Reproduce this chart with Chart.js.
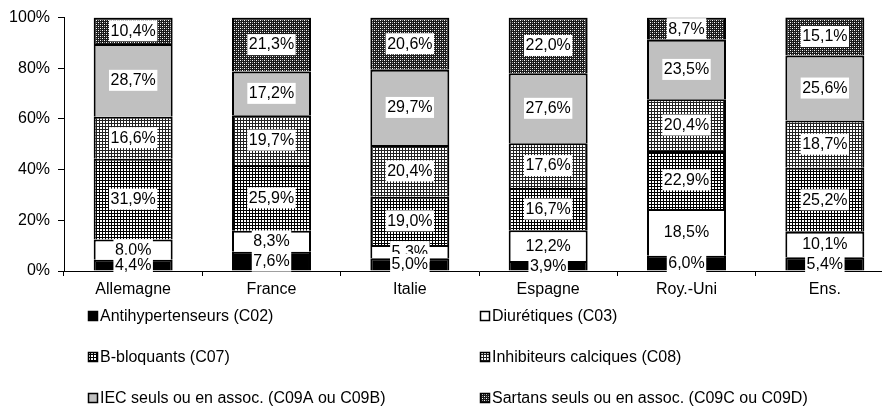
<!DOCTYPE html>
<html><head><meta charset="utf-8">
<script src="https://cdn.jsdelivr.net/npm/chart.js@4.4.1/dist/chart.umd.min.js"></script>
<style>html,body{margin:0;padding:0;background:#fff;overflow:hidden;} #wrap{width:900px;height:418px;}</style>
</head><body><div id="wrap"><canvas id="c" width="900" height="418"></canvas></div>
<script>
const categories = ['Allemagne', 'France', 'Italie', 'Espagne', 'Roy.-Uni', 'Ens.'];
const seriesNames = ['Antihypertenseurs (C02)', 'Diurétiques (C03)', 'B-bloquants (C07)', 'Inhibiteurs calciques (C08)', 'IEC seuls ou en assoc. (C09A ou C09B)', 'Sartans seuls ou en assoc. (C09C ou C09D)'];
const antihypertenseurs = [4.4, 7.6, 5.0, 3.9, 6.0, 5.4];
const diuretiques = [8.0, 8.3, 5.3, 12.2, 18.5, 10.1];
const bBloquants = [31.9, 25.9, 19.0, 16.7, 22.9, 25.2];
const inhibiteursCalciques = [16.6, 19.7, 20.4, 17.6, 20.4, 18.7];
const iec = [28.7, 17.2, 29.7, 27.6, 23.5, 25.6];
const sartans = [10.4, 21.3, 20.6, 22.0, 8.7, 15.1];
const yTicks = [0, 20, 40, 60, 80, 100];

const FONT = "'Liberation Sans', Arial, sans-serif";

function makePattern(size, painter) {
  const c = document.createElement('canvas');
  c.width = size; c.height = size;
  const g = c.getContext('2d');
  painter(g);
  return g.createPattern(c, 'repeat');
}
const fillBlack = '#000000';
const fillWhite = '#ffffff';
const fillGridDark = makePattern(3, g => {
  g.fillStyle = '#fff'; g.fillRect(0, 0, 3, 3);
  g.fillStyle = '#000'; g.fillRect(0, 0, 3, 1); g.fillRect(0, 0, 1, 3);
});
const fillGridLight = makePattern(3, g => {
  g.fillStyle = '#fff'; g.fillRect(0, 0, 3, 3);
  g.fillStyle = '#222'; g.fillRect(0, 0, 3, 1); g.fillRect(0, 0, 1, 3);
});
const fillGray = '#c0c0c0';
const fillDots = makePattern(4, g => {
  g.fillStyle = '#1a1a1a'; g.fillRect(0, 0, 4, 4);
  g.fillStyle = '#ffffff'; g.fillRect(0, 0, 1, 1); g.fillRect(2, 2, 1, 1);
  g.fillStyle = '#9a9a9a'; g.fillRect(2, 0, 1, 1); g.fillRect(0, 2, 1, 1);
});

const seriesValues = [antihypertenseurs, diuretiques, bBloquants, inhibiteursCalciques, iec, sartans];
const seriesFills = [fillBlack, fillWhite, fillGridDark, fillGridLight, fillGray, fillDots];

const datasets = seriesValues.map((vals, k) => ({
  label: seriesNames[k],
  data: vals,
  backgroundColor: seriesFills[k],
  borderColor: '#000',
  borderWidth: 2,
  barPercentage: 0.571,
  categoryPercentage: 1.0
}));

function fmt(v) { return v.toFixed(1).replace('.', ',') + '%'; }

const valueLabels = {
  id: 'valueLabels',
  afterDatasetsDraw(chart) {
    const ctx = chart.ctx;
    ctx.save();
    ctx.font = '16px ' + FONT;
    ctx.textAlign = 'center';
    ctx.textBaseline = 'middle';
    for (let d = chart.data.datasets.length - 1; d >= 0; d--) {
      const meta = chart.getDatasetMeta(d);
      meta.data.forEach((el, i) => {
        const txt = fmt(chart.data.datasets[d].data[i]);
        const cy = (el.y + el.base) / 2;
        const w = ctx.measureText(txt).width + 3;
        ctx.fillStyle = '#fff';
        ctx.fillRect(el.x - w / 2, cy - 10.5, w, 21);
        ctx.fillStyle = '#000';
        ctx.fillText(txt, el.x, cy + 0.5);
      });
    }
    ctx.restore();
  }
};

const customLegend = {
  id: 'customLegend',
  afterDraw(chart) {
    const ctx = chart.ctx;
    const colX = [88, 480];
    const rowY = [316, 357, 398];
    ctx.save();
    ctx.font = '16px ' + FONT;
    ctx.textAlign = 'left';
    ctx.textBaseline = 'middle';
    chart.data.datasets.forEach((ds, k) => {
      const x = colX[k % 2];
      const y = rowY[Math.floor(k / 2)];
      ctx.fillStyle = ds.backgroundColor;
      ctx.fillRect(x, y - 5, 10, 10);
      ctx.strokeStyle = '#000';
      ctx.lineWidth = 1.5;
      ctx.strokeRect(x + 0.5, y - 4.5, 9, 9);
      ctx.fillStyle = '#000';
      ctx.fillText(ds.label, x + 12, y + 0.5);
    });
    ctx.restore();
  }
};

new Chart(document.getElementById('c'), {
  type: 'bar',
  data: { labels: categories, datasets },
  plugins: [valueLabels, customLegend],
  options: {
    responsive: false,
    animation: false,
    devicePixelRatio: 1,
    layout: { padding: { top: 17, right: 6, left: 0, bottom: 0 } },
    plugins: { legend: { display: false }, tooltip: { enabled: false } },
    scales: {
      x: {
        stacked: true,
        grid: { display: true, drawOnChartArea: false, drawTicks: true, tickLength: 5, color: '#000', offset: true },
        border: { display: true, color: '#000', width: 1 },
        ticks: { color: '#000', font: { family: FONT, size: 16 }, padding: 4, maxRotation: 0, autoSkip: false },
        afterFit(s) { s.height = 147; }
      },
      y: {
        stacked: true,
        min: 0, max: 100,
        afterBuildTicks(s) { s.ticks = yTicks.map(v => ({ value: v })); },
        grid: { display: true, drawOnChartArea: false, drawTicks: true, tickLength: 6, color: '#000' },
        border: { display: true, color: '#000', width: 1 },
        ticks: { color: '#000', font: { family: FONT, size: 16 }, padding: 8, callback: v => v + '%' },
        afterFit(s) { s.width = 64; }
      }
    }
  }
});
</script></body></html>
